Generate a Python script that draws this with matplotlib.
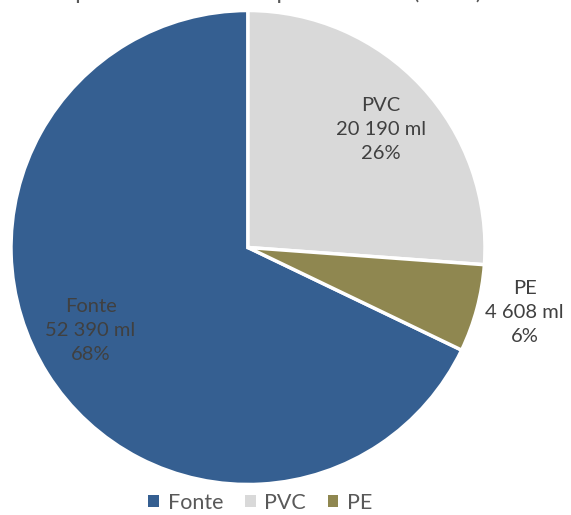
import numpy as np
import matplotlib.pyplot as plt
from matplotlib.patches import Patch

plt.rcParams['font.family'] = ['Lato', 'DejaVu Sans']

categories = ['Fonte', 'PVC', 'PE']
lengths_ml = [52390, 20190, 4608]
colors = ['#355F91', '#D9D9D9', '#8F8750']
title = 'Répartition du réseau par matériau (en ml)'

total = sum(lengths_ml)
shares = [v / total for v in lengths_ml]

fig = plt.figure(figsize=(5.71, 5.15), dpi=100)
W, H = 571, 515
cx, cy, r = 248, 247.5, 237
ax = fig.add_axes([(cx - r) / W, (H - cy - r) / H, 2 * r / W, 2 * r / H])

start = 90 + shares[0] * 360
wedges, _ = ax.pie(lengths_ml, colors=colors, startangle=start, counterclock=False,
                   wedgeprops=dict(edgecolor='white', linewidth=2.5))
ax.set_xlim(-1, 1)
ax.set_ylim(-1, 1)
ax.set_aspect('equal')

# label distance (radius units) and angle nudge (deg) per slice
dists = [0.75, 0.75, 1.2]
nudges = [-4.5, -1.2, 1.6]
for w, name, v, s, d, dn in zip(wedges, categories, lengths_ml, shares, dists, nudges):
    mid = np.deg2rad((w.theta1 + w.theta2) / 2 + dn)
    txt = f"{name}\n{v:,} ml\n{s:.0%}".replace(',', ' ')
    ax.text(d * np.cos(mid), d * np.sin(mid), txt, ha='center', va='center',
            fontsize=14.5, color='#404040', linespacing=1.5)

# title sits above the canvas, only its descenders show as in the source
fig.text(0.465, 1.0 + 1 / H, title, ha='center', va='baseline', fontsize=17, color='#595959')

handles = [Patch(facecolor=c, edgecolor='none') for c in colors]
fig.legend(handles, categories, loc='center', bbox_to_anchor=(0.456, 12 / H), ncol=3,
           frameon=False, fontsize=15.5, handlelength=0.5, handleheight=0.5,
           handletextpad=0.4, columnspacing=1.0, labelcolor='#595959')

fig.savefig('out.png', dpi=100)
